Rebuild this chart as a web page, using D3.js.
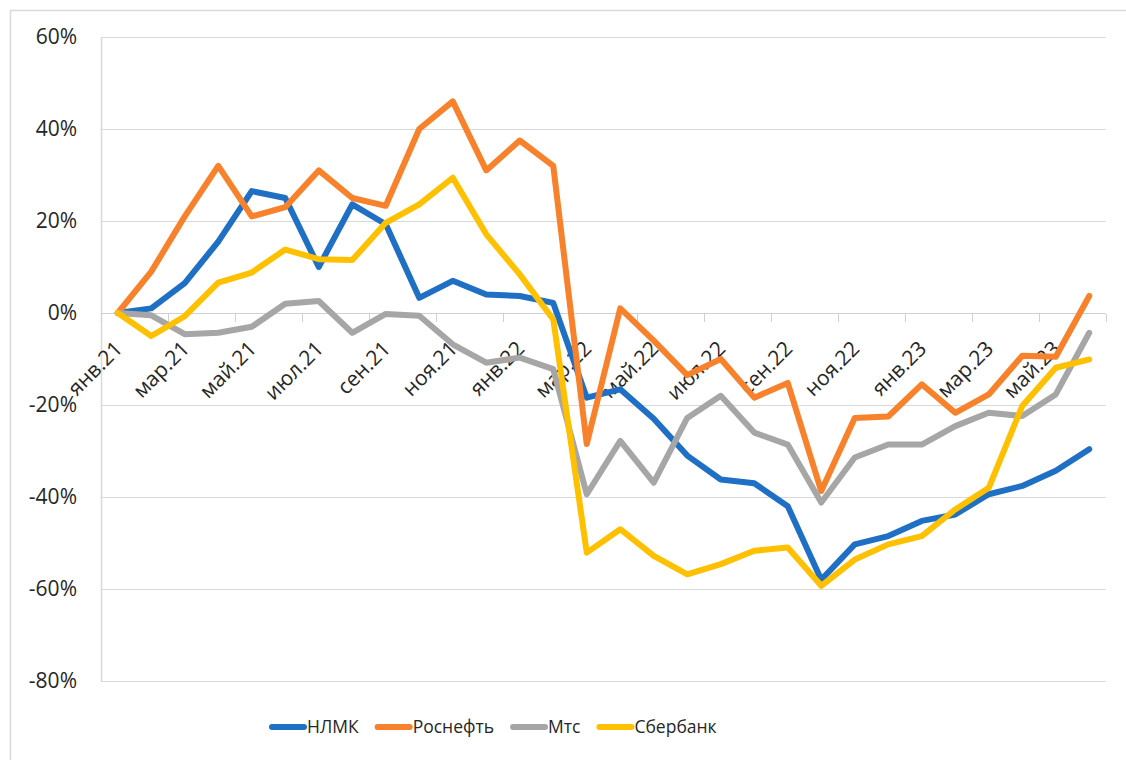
<!DOCTYPE html>
<html>
<head>
<meta charset="utf-8">
<title>Акции</title>
<style>
    body { margin: 0; background: #fff; }
    svg text { font-family: "Open Sans", "Noto Sans", sans-serif; fill: #262626; }
    .grid line { stroke: #d9d9d9; stroke-width: 1.5; shape-rendering: crispEdges; }
    .x.axis path, .x.axis line { stroke: #d0d0d0; stroke-width: 1.5; shape-rendering: crispEdges; }
</style>
</head>
<body>
<script src="https://cdnjs.cloudflare.com/ajax/libs/d3/7.8.5/d3.min.js"></script>
<script>

// months, Jan 2021 .. Jun 2023
var months = ["янв.21","фев.21","мар.21","апр.21","май.21","июн.21","июл.21","авг.21","сен.21","окт.21","ноя.21","дек.21",
              "янв.22","фев.22","мар.22","апр.22","май.22","июн.22","июл.22","авг.22","сен.22","окт.22","ноя.22","дек.22",
              "янв.23","фев.23","мар.23","апр.23","май.23","июн.23"];

var nlmk     = [0, 1, 6.5, 15.5, 26.5, 25, 10, 23.6, 19.3, 3.3, 7, 4, 3.7, 2.2, -18.4, -16.6, -23, -31, -36.2, -37, -42, -58, -50.3, -48.5, -45.2, -43.8, -39.4, -37.6, -34.3, -29.6];
var rosneft  = [0, 9, 21, 32, 21, 23, 31, 25, 23.3, 40, 46, 31, 37.5, 32, -28.5, 1, -6, -13.5, -10, -18.4, -15.2, -38.7, -22.8, -22.5, -15.5, -21.7, -17.7, -9.3, -9.5, 3.7];
var mts      = [0, -0.5, -4.6, -4.3, -3, 2, 2.6, -4.3, -0.2, -0.6, -6.8, -10.8, -9.7, -12.2, -39.4, -27.8, -36.9, -22.8, -18, -26, -28.6, -41.2, -31.4, -28.6, -28.6, -24.6, -21.7, -22.4, -17.7, -4.3];
var sber     = [0, -5, -0.7, 6.6, 8.8, 13.8, 11.7, 11.5, 19.6, 23.6, 29.4, 17.1, 8.4, -1.4, -52.1, -47, -52.8, -56.8, -54.6, -51.7, -51, -59.3, -53.6, -50.3, -48.5, -42.7, -38, -20.2, -11.9, -10.1];

var seriesNames  = ["НЛМК", "Роснефть", "Мтс", "Сбербанк"];
var seriesColors = ["#1f6fc5", "#f8812b", "#a6a6a6", "#ffc000"];
var seriesData   = [nlmk, rosneft, mts, sber];

var yTicks = [-80, -60, -40, -20, 0, 20, 40, 60];

var w = 1126, h = 760;
var plotLeft = 101, plotRight = 1106, plotTop = 37, plotBottom = 681;

var svg = d3.select("body").append("svg")
    .attr("width", w)
    .attr("height", h);

// outer chart frame (top and left edges visible)
svg.append("path")
    .attr("d", "M10.5,760 L10.5,10.5 L1126,10.5")
    .attr("fill", "none")
    .attr("stroke", "#d9d9d9")
    .attr("stroke-width", 1.5);

var xScale = d3.scaleBand()
    .domain(months)
    .range([plotLeft, plotRight]);

var yScale = d3.scaleLinear()
    .domain([-80, 60])
    .range([plotBottom, plotTop]);

// horizontal gridlines
svg.append("g")
    .attr("class", "grid")
    .selectAll("line")
    .data(yTicks)
    .enter()
    .append("line")
    .attr("x1", plotLeft)
    .attr("x2", plotRight)
    .attr("y1", function(d) { return Math.round(yScale(d)) + 0.5; })
    .attr("y2", function(d) { return Math.round(yScale(d)) + 0.5; });

// left axis line
svg.append("line")
    .attr("x1", plotLeft + 0.5).attr("x2", plotLeft + 0.5)
    .attr("y1", plotTop).attr("y2", plotBottom + 1)
    .attr("stroke", "#d9d9d9")
    .attr("stroke-width", 1.5);

// y axis labels
svg.append("g")
    .selectAll("text")
    .data(yTicks)
    .enter()
    .append("text")
    .attr("x", 77)
    .attr("y", function(d) { return yScale(d); })
    .attr("dy", "0.35em")
    .attr("text-anchor", "end")
    .style("font-size", "21px")
    .text(function(d) { return d + "%"; });

// category axis sitting on the 0% line, tick marks every 2 months
var y0 = Math.round(yScale(0)) + 0.5;
var xAxis = svg.append("g")
    .attr("class", "x axis")
    .attr("transform", "translate(0," + y0 + ")");

xAxis.append("line")
    .attr("x1", plotLeft).attr("x2", plotRight)
    .attr("y1", 0).attr("y2", 0);

var tickPos = d3.range(0, months.length + 1, 2).map(function(i) {
    return i < months.length ? xScale(months[i]) : plotRight;
});
xAxis.selectAll("line.tick")
    .data(tickPos)
    .enter()
    .append("line")
    .attr("class", "tick")
    .attr("x1", function(d) { return Math.round(d) + 0.5; })
    .attr("x2", function(d) { return Math.round(d) + 0.5; })
    .attr("y1", 0)
    .attr("y2", 8);

var labelMonths = months.filter(function(d, i) { return i % 2 === 0; });
svg.append("g")
    .selectAll("text")
    .data(labelMonths)
    .enter()
    .append("text")
    .attr("text-anchor", "end")
    .style("font-size", "21px")
    .attr("transform", function(d) {
        var cx = xScale(d) + xScale.bandwidth() / 2 + 6;
        return "translate(" + cx + "," + 350 + ") rotate(-45)";
    })
    .text(function(d) { return d; });

// lines
var line = d3.line()
    .x(function(d, i) { return xScale(months[i]) + xScale.bandwidth() / 2; })
    .y(function(d) { return yScale(d); });

svg.append("g")
    .selectAll("path")
    .data(seriesData)
    .enter()
    .append("path")
    .attr("d", line)
    .attr("fill", "none")
    .attr("stroke", function(d, i) { return seriesColors[i]; })
    .attr("stroke-width", 6)
    .attr("stroke-linejoin", "round")
    .attr("stroke-linecap", "round");

// legend
var legend = svg.append("g").attr("transform", "translate(0,727)");
var lx = 272;
seriesNames.forEach(function(name, i) {
    legend.append("line")
        .attr("x1", lx).attr("x2", lx + 32)
        .attr("y1", 0).attr("y2", 0)
        .attr("stroke", seriesColors[i])
        .attr("stroke-width", 6)
        .attr("stroke-linecap", "round");
    var t = legend.append("text")
        .attr("x", lx + 35)
        .attr("y", 0)
        .attr("dy", "0.35em")
        .style("font-size", "17.5px")
        .text(name);
    lx += 35 + t.node().getComputedTextLength() + 19;
});

</script>
</body>
</html>
